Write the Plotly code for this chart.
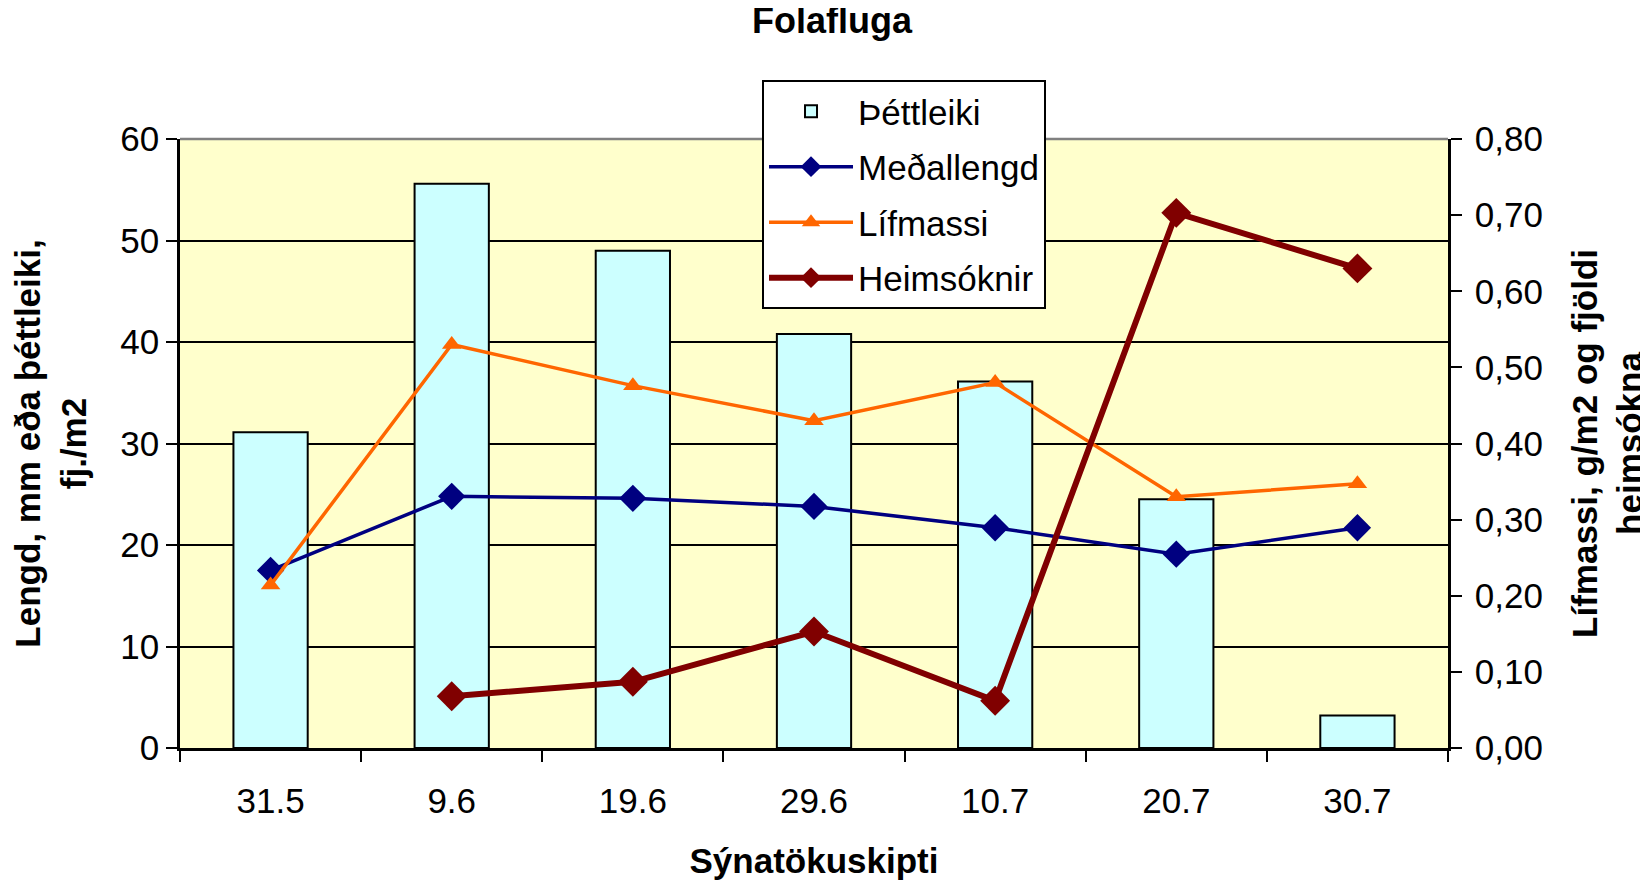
import plotly.graph_objects as go

categories = ["31.5", "9.6", "19.6", "29.6", "10.7", "20.7", "30.7"]
thettleiki = [31.1, 55.6, 49.0, 40.8, 36.1, 24.5, 3.2]
medallengd = [17.5, 24.8, 24.6, 23.8, 21.7, 19.1, 21.7]
lifmassi = [0.214, 0.530, 0.476, 0.430, 0.480, 0.330, 0.347]
heimsoknir = [None, 0.068, 0.087, 0.153, 0.062, 0.703, 0.630]
right_ticks = [0.0, 0.1, 0.2, 0.3, 0.4, 0.5, 0.6, 0.7, 0.8]

FONT = "Liberation Sans, Arial, sans-serif"
FS = 35

fig = go.Figure()
fig.add_trace(go.Bar(x=categories, y=thettleiki, name="Þéttleiki", width=0.41, legendgroup="a",
                     marker=dict(color="#CCFFFF", line=dict(color="black", width=2))))
fig.add_trace(go.Scatter(x=categories, y=medallengd, name="Meðallengd", mode="lines+markers",
                         legendgroup="b",
                         line=dict(color="#000080", width=3.5),
                         marker=dict(symbol="diamond", size=21, color="#000080")))
fig.add_trace(go.Scatter(x=categories, y=lifmassi, name="Lífmassi", mode="lines+markers", yaxis="y2",
                         legendgroup="c",
                         line=dict(color="#FF6600", width=3.5),
                         marker=dict(symbol="triangle-up", size=17, color="#FF6600")))
fig.add_trace(go.Scatter(x=categories, y=heimsoknir, name="Heimsóknir", mode="lines+markers", yaxis="y2",
                         legendgroup="d",
                         line=dict(color="#800000", width=6),
                         marker=dict(symbol="diamond", size=23, color="#800000")))

fig.update_layout(
    width=1648, height=883,
    margin=dict(l=172, r=206, t=131, b=143),
    paper_bgcolor="white", plot_bgcolor="#FFFFCC",
    font=dict(family=FONT, size=FS, color="black"),
    separators=",.",
    title=dict(text="<b>Folafluga</b>", x=0.5, xanchor="center", y=1.0, yanchor="top",
               font=dict(family=FONT, size=36, color="black")),
    showlegend=True,
    legend=dict(x=0.459, y=1.097, xanchor="left", yanchor="top", bgcolor="white",
                bordercolor="black", borderwidth=2, font=dict(family=FONT, size=FS),
                itemwidth=84, tracegroupgap=7, traceorder="grouped"),
    xaxis=dict(type="category", tickson="boundaries", ticks="outside", ticklen=11, tickwidth=2,
               tickcolor="black", showline=True, linecolor="black", linewidth=3,
               ticklabelstandoff=20, tickfont=dict(family=FONT, size=FS),
               title=dict(text="<b>Sýnatökuskipti</b>", standoff=30, font=dict(family=FONT, size=FS)),
               showgrid=False),
    yaxis=dict(range=[0, 60], dtick=10, ticks="outside", ticklen=11, tickwidth=2, tickcolor="black",
               showline=True, linecolor="black", linewidth=2.5, showgrid=True, gridcolor="black",
               gridwidth=2, zeroline=False, tickfont=dict(family=FONT, size=FS),
               title=dict(text="<b>Lengd, mm eða þéttleiki,<br>fj./m2</b>", standoff=30,
                          font=dict(family=FONT, size=FS))),
    yaxis2=dict(range=[0, 0.8], tickvals=right_ticks, tickformat=".2f", overlaying="y", side="right",
                ticks="outside", ticklen=11, tickwidth=2, tickcolor="black", showline=True,
                linecolor="black", linewidth=2.5, showgrid=False, zeroline=False,
                ticklabelstandoff=6, tickfont=dict(family=FONT, size=FS),
                title=dict(text="<b>Lífmassi, g/m2 og fjöldi<br>heimsókna</b>", standoff=31,
                           font=dict(family=FONT, size=FS))),
    shapes=[dict(type="line", xref="paper", yref="paper", x0=0, x1=1, y0=1, y1=1,
                 line=dict(color="#808080", width=2.5))],
)

fig.write_html("out.html")
